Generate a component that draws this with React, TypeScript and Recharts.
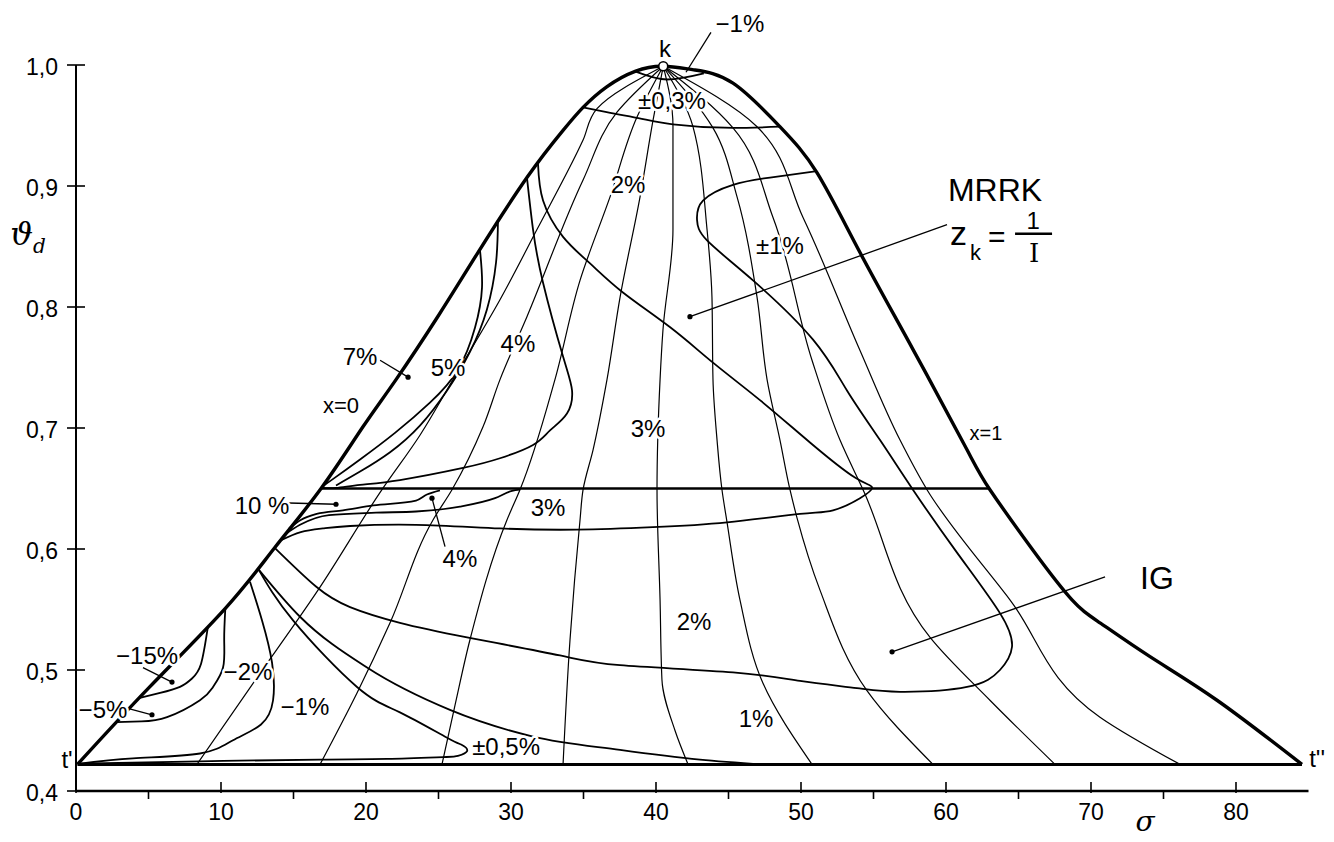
import React from "react";
import { LineChart, Line, XAxis, YAxis, ReferenceLine, ReferenceDot } from "recharts";

type Pt = { x: number; y: number };
const pts = (rows: number[][]): Pt[] => rows.map(([x, y]) => ({ x, y }));

const FONT = '"Liberation Sans", Arial, sans-serif';

// axis ticks (sigma along x, theta_d along y)
const xTicks = [0, 5, 10, 15, 20, 25, 30, 35, 40, 45, 50, 55, 60, 65, 70, 75, 80];
const yTicks = [0.4, 0.5, 0.6, 0.7, 0.8, 0.9, 1.0];

// saturation dome: x=0 branch, critical point k, x=1 branch
const dome = pts([
  [0.1, 0.422], [5, 0.485], [10.3, 0.551], [13.7, 0.601], [16.9, 0.65],
  [19.79, 0.701], [22.07, 0.74], [25, 0.793], [27.72, 0.845], [31.1, 0.907], [33.59, 0.946],
  [34.97, 0.965], [36.6, 0.982], [38.6, 0.995], [40.5, 0.999], [42.6, 0.996],
  [45.31, 0.985], [48.55, 0.949], [51.1, 0.911], [54.07, 0.845], [57.72, 0.765],
  [61.45, 0.682], [63.03, 0.649], [66.0, 0.599], [68.69, 0.558], [70.62, 0.539], [74.07, 0.511],
  [78.69, 0.475], [84.55, 0.422],
]);
const tripleLine = pts([[0.1, 0.422], [84.55, 0.422]]);
const level065 = pts([[16.9, 0.65], [63.03, 0.65]]);

// quality lines x = 0.1 ... 0.9, from k down to the triple line
const q1 = pts([[40.5, 0.999], [35.93, 0.964], [34.97, 0.938], [31.79, 0.864], [29.24, 0.806], [26.0, 0.74], [23.72, 0.694], [21.1, 0.649], [16.69, 0.566], [12.21, 0.489], [8.34, 0.422]]);
const q2 = pts([[40.5, 0.999], [37.31, 0.961], [34.97, 0.905], [31.1, 0.792], [29.24, 0.74], [28.07, 0.701], [25.93, 0.649], [24.62, 0.624], [21.66, 0.539], [19.38, 0.481], [16.83, 0.422]]);
const q3 = pts([[40.5, 0.999], [38.69, 0.957], [36.83, 0.891], [34.76, 0.822], [33.03, 0.74], [30.62, 0.649], [29.72, 0.624], [27.17, 0.525], [26.14, 0.471], [25.24, 0.422]]);
const q4 = pts([[40.5, 0.999], [39.79, 0.954], [38.9, 0.891], [37.52, 0.808], [36.62, 0.74], [35.66, 0.682], [34.97, 0.649], [34.76, 0.624], [34.07, 0.525], [33.59, 0.422]]);
const q5 = pts([[40.5, 0.999], [41.17, 0.95], [41.17, 0.864], [40.48, 0.781], [40.28, 0.74], [40.07, 0.649], [40.28, 0.558], [40.41, 0.492], [41.31, 0.45], [42.21, 0.422]]);
const q6 = pts([[40.5, 0.999], [42.55, 0.949], [43.52, 0.864], [43.86, 0.808], [43.93, 0.74], [44.21, 0.69], [44.55, 0.649], [44.9, 0.622], [45.79, 0.558], [47.38, 0.489], [50.76, 0.422]]);
const q7 = pts([[40.5, 0.999], [43.93, 0.948], [45.59, 0.891], [46.97, 0.808], [47.66, 0.74], [48.55, 0.69], [49.24, 0.649], [49.72, 0.626], [51.31, 0.566], [54.55, 0.483], [59.1, 0.422]]);
const q8 = pts([[40.5, 0.999], [45.31, 0.948], [48.07, 0.874], [50.76, 0.756], [52.69, 0.69], [54.28, 0.649], [58.9, 0.527], [63.03, 0.475], [67.52, 0.422]]);
const q9 = pts([[40.5, 0.999], [46.97, 0.949], [50.14, 0.874], [54.07, 0.764], [56.83, 0.69], [58.69, 0.649], [64.41, 0.558], [70.62, 0.461], [76.14, 0.422]]);

// error contours
const c3 = pts([
  [31.86, 0.919], [32.21, 0.888], [33.59, 0.858], [35.45, 0.836], [37.72, 0.812], [41.0, 0.783],
  [43.93, 0.754], [47.17, 0.723], [50.62, 0.688], [53.72, 0.659], [54.9, 0.651], [54.07, 0.642],
  [52.21, 0.632], [49.93, 0.629], [44.9, 0.622], [39.79, 0.618], [34.55, 0.616], [29.24, 0.617],
  [23.45, 0.62], [18.9, 0.619], [17.03, 0.617], [15.5, 0.614], [14.1, 0.607],
]);
const cIG = pts([
  [13.7, 0.601], [16.55, 0.569], [18.9, 0.552], [22.34, 0.539], [26.97, 0.527], [33.38, 0.512],
  [37.52, 0.504], [45.31, 0.498], [49.93, 0.491], [53.86, 0.485], [56.83, 0.482], [61.45, 0.486],
  [63.72, 0.5], [64.55, 0.519], [63.72, 0.547], [60.76, 0.597], [57.72, 0.649], [55.45, 0.69],
  [53.17, 0.731], [50.83, 0.773], [46.69, 0.822], [43.52, 0.855], [42.83, 0.872], [43.24, 0.888],
  [45.31, 0.901], [47.86, 0.907], [50.97, 0.912],
]);
const loop4 = pts([
  [31.1, 0.907], [31.52, 0.864], [32.21, 0.82], [33.59, 0.759], [34.21, 0.731], [33.86, 0.712],
  [32.69, 0.698], [31.52, 0.686], [29.24, 0.675], [26.69, 0.667], [22.34, 0.657], [19.59, 0.653],
  [17.93, 0.6505], [17.0, 0.6505],
]);
const loop7 = pts([[27.86, 0.847], [28.0, 0.816], [27.52, 0.783], [26.34, 0.748], [24.41, 0.721], [22.0, 0.696], [19.59, 0.674], [17.86, 0.659], [16.97, 0.6515]]);
const loop5 = pts([[29.1, 0.871], [28.97, 0.837], [28.34, 0.798], [27.17, 0.763], [25.59, 0.731], [23.72, 0.702], [21.66, 0.68], [19.59, 0.664], [17.93, 0.6525]]);
const band10a = pts([[14.4, 0.612], [15.45, 0.62], [17.45, 0.628], [20.69, 0.63], [23.45, 0.631], [26.48, 0.635], [28.9, 0.642], [30.07, 0.648], [30.62, 0.649]]);
const band10b = pts([[14.7, 0.617], [15.5, 0.624], [16.6, 0.629], [18.41, 0.632], [20.5, 0.636], [23.45, 0.64], [24.2, 0.645], [25.1, 0.6485]]);
const lower1 = pts([[12.6, 0.583], [15.45, 0.544], [20.07, 0.502], [25.79, 0.467], [31.52, 0.445], [37.52, 0.434], [43.03, 0.426], [47.4, 0.422]]);
const half = pts([
  [12.6, 0.583], [14.97, 0.541], [19.38, 0.486], [22.34, 0.465], [25.59, 0.444], [26.62, 0.438],
  [26.97, 0.433], [26.34, 0.429], [25.31, 0.428], [21.45, 0.4265], [16.83, 0.426], [8.55, 0.4245], [0.14, 0.4225],
]);
const minus1 = pts([[12.0, 0.573], [12.83, 0.541], [13.52, 0.506], [13.59, 0.475], [12.76, 0.455], [10.83, 0.442], [8.55, 0.431], [3.93, 0.427], [0.14, 0.4225]]);
const minus2 = pts([[10.3, 0.551], [10.22, 0.525], [10.14, 0.502], [9.45, 0.486], [8.55, 0.475], [6.28, 0.461], [4.5, 0.4575], [2.8, 0.457]]);
const minus15 = pts([[9.1, 0.536], [8.62, 0.505], [8.0, 0.493], [7.17, 0.486], [5.8, 0.481], [4.4, 0.477]]);
const cap03 = pts([[34.97, 0.965], [36.6, 0.961], [38.41, 0.957], [41.17, 0.951], [45.31, 0.948], [48.55, 0.949]]);
const capMinus1 = pts([[38.6, 0.9945], [40.76, 0.988], [43.3, 0.993]]);

const qualityLines = [q1, q2, q3, q4, q5, q6, q7, q8, q9];
const naturalContours = [c3, cIG, loop4, loop7, loop5, half, minus1, minus2, minus15];
const smoothContours = [band10a, band10b, lower1, cap03, capMinus1];

// leader lines: [x1, y1, x2, y2, dot at end]
const leaders: [number, number, number, number, boolean][] = [
  [60.07, 0.868, 42.34, 0.792, true],
  [70.97, 0.577, 56.28, 0.515, true],
  [4.62, 0.502, 6.62, 0.49, true],
  [3.38, 0.469, 5.24, 0.463, true],
  [14.69, 0.638, 17.93, 0.637, true],
  [25.45, 0.602, 24.55, 0.642, true],
  [20.97, 0.756, 22.9, 0.742, true],
  [43.79, 1.027, 42.07, 0.994, false],
];

// annotation texts: [x, y, text, size]
const notes: [number, number, string, number][] = [
  [40.62, 1.014, "k", 24],
  [45.79, 1.034, "−1%", 24],
  [41.1, 0.971, "±0,3%", 24],
  [38.07, 0.901, "2%", 24],
  [48.55, 0.851, "±1%", 24],
  [63.38, 0.897, "MRRK", 32],
  [18.28, 0.719, "x=0", 22],
  [62.76, 0.696, "x=1", 20],
  [19.59, 0.759, "7%", 24],
  [25.66, 0.75, "5%", 24],
  [30.48, 0.77, "4%", 24],
  [39.45, 0.7, "3%", 24],
  [12.83, 0.636, "10 %", 24],
  [32.55, 0.634, "3%", 24],
  [26.48, 0.592, "4%", 24],
  [42.62, 0.54, "2%", 24],
  [46.9, 0.46, "1%", 24],
  [74.55, 0.576, "IG", 32],
  [4.9, 0.512, "−15%", 24],
  [1.86, 0.467, "−5%", 24],
  [11.86, 0.499, "−2%", 24],
  [15.79, 0.47, "−1%", 24],
  [29.66, 0.437, "±0,5%", 24],
  [-0.62, 0.426, "t'", 24],
  [85.59, 0.427, "t''", 24],
];

const zkAnchor = { x: 60.28, y: 0.858 };
const kPoint = { x: 40.5, y: 0.999 };
const yTitle = { x: -3.31, y: 0.851 };
const xTitle = { x: 73.72, y: 0.3745 };

const noteShape = (t: string, size: number) => (p: any) => (
  <text
    x={p.cx}
    y={p.cy}
    textAnchor="middle"
    dominantBaseline="central"
    fontFamily={FONT}
    fontSize={size}
    fill="#000"
    stroke="#fff"
    strokeWidth={5}
    strokeLinejoin="round"
    paintOrder="stroke"
  >
    {t}
  </text>
);

const zkShape = (p: any) => (
  <g fontFamily={FONT} fill="#000">
    <text x={p.cx} y={p.cy + 8} fontSize={34}>z</text>
    <text x={p.cx + 20} y={p.cy + 23} fontSize={22}>k</text>
    <text x={p.cx + 38} y={p.cy + 10} fontSize={30}>=</text>
    <text x={p.cx + 83} y={p.cy - 8} fontSize={24} textAnchor="middle">1</text>
    <line x1={p.cx + 65} x2={p.cx + 102} y1={p.cy - 3} y2={p.cy - 3} stroke="#000" strokeWidth={2.5} />
    <text x={p.cx + 84} y={p.cy + 25} fontSize={26} textAnchor="middle" fontFamily='"DejaVu Serif", serif'>I</text>
  </g>
);

const yTitleShape = (p: any) => (
  <text x={p.cx} y={p.cy} textAnchor="middle" fontFamily='"DejaVu Serif", serif' fontStyle="italic" fill="#000">
    <tspan fontSize={32}>ϑ</tspan>
    <tspan fontSize={20} dy={8}>d</tspan>
  </text>
);

const xTitleShape = (p: any) => (
  <text x={p.cx} y={p.cy} textAnchor="middle" dominantBaseline="central" fontFamily='"DejaVu Serif", serif' fontStyle="italic" fontSize={28} fill="#000">
    σ
  </text>
);

const XTick = (props: any) => {
  const { x, y, payload } = props;
  const major = payload.value % 10 === 0;
  return (
    <g>
      <line x1={x} x2={x} y1={major ? y - 9 : y} y2={major ? y + 2 : y + 8} stroke="#000" strokeWidth={1.6} />
      {major && (
        <text x={x} y={y + 21} textAnchor="middle" dominantBaseline="central" fontFamily={FONT} fontSize={23} fill="#000">
          {payload.value}
        </text>
      )}
    </g>
  );
};

const YTick = (props: any) => {
  const { x, y, payload } = props;
  return (
    <g>
      <line x1={x - 9} x2={x + 9} y1={y} y2={y} stroke="#000" strokeWidth={1.6} />
      <text x={x - 18} y={y + 2} textAnchor="end" dominantBaseline="central" fontFamily={FONT} fontSize={23} fill="#000">
        {payload.value.toFixed(1).replace(".", ",")}
      </text>
    </g>
  );
};

const lineProps = {
  dataKey: "y",
  dot: false,
  activeDot: false,
  isAnimationActive: false,
  legendType: "none" as const,
  stroke: "#000",
};

export default function App() {
  return (
    <div style={{ position: "absolute", left: 0, top: 0, background: "#fff" }}>
      <LineChart width={1334} height={842} margin={{ top: 65, right: 25.5, bottom: 21, left: 16 }}>
        <XAxis
          type="number"
          dataKey="x"
          domain={[0, 85]}
          ticks={xTicks}
          interval={0}
          height={30}
          tickSize={0}
          tickMargin={0}
          tickLine={false}
          axisLine={{ stroke: "#000", strokeWidth: 2.4 }}
          tick={XTick}
        />
        <YAxis
          type="number"
          dataKey="y"
          domain={[0.4, 1.0]}
          ticks={yTicks}
          interval={0}
          width={60}
          tickSize={0}
          tickMargin={0}
          tickLine={false}
          axisLine={{ stroke: "#000", strokeWidth: 2 }}
          tick={YTick}
        />

        {qualityLines.map((d, i) => (
          <Line key={`q${i}`} {...lineProps} data={d} type="monotoneY" strokeWidth={1.2} />
        ))}
        {naturalContours.map((d, i) => (
          <Line key={`c${i}`} {...lineProps} data={d} type="natural" strokeWidth={1.8} />
        ))}
        {smoothContours.map((d, i) => (
          <Line key={`s${i}`} {...lineProps} data={d} type="monotoneX" strokeWidth={1.8} />
        ))}
        <Line {...lineProps} data={level065} type="linear" strokeWidth={2.6} />
        <Line {...lineProps} data={tripleLine} type="linear" strokeWidth={3} />
        <Line {...lineProps} data={dome} type="natural" strokeWidth={3.4} />

        {leaders.map(([x1, y1, x2, y2], i) => (
          <ReferenceLine
            key={`l${i}`}
            segment={[{ x: x1, y: y1 }, { x: x2, y: y2 }]}
            stroke="#000"
            strokeWidth={1.3}
            ifOverflow="visible"
          />
        ))}
        {leaders
          .filter((l) => l[4])
          .map(([, , x2, y2], i) => (
            <ReferenceDot key={`d${i}`} x={x2} y={y2} r={2.6} fill="#000" stroke="none" ifOverflow="visible" />
          ))}

        <ReferenceDot x={kPoint.x} y={kPoint.y} r={4.5} fill="#fff" stroke="#000" strokeWidth={1.6} ifOverflow="visible" />

        {notes.map(([x, y, t, s], i) => (
          <ReferenceDot key={`n${i}`} x={x} y={y} r={1} ifOverflow="visible" shape={noteShape(t, s)} />
        ))}
        <ReferenceDot x={zkAnchor.x} y={zkAnchor.y} r={1} ifOverflow="visible" shape={zkShape} />
        <ReferenceDot x={yTitle.x} y={yTitle.y} r={1} ifOverflow="visible" shape={yTitleShape} />
        <ReferenceDot x={xTitle.x} y={xTitle.y} r={1} ifOverflow="visible" shape={xTitleShape} />
      </LineChart>
    </div>
  );
}
